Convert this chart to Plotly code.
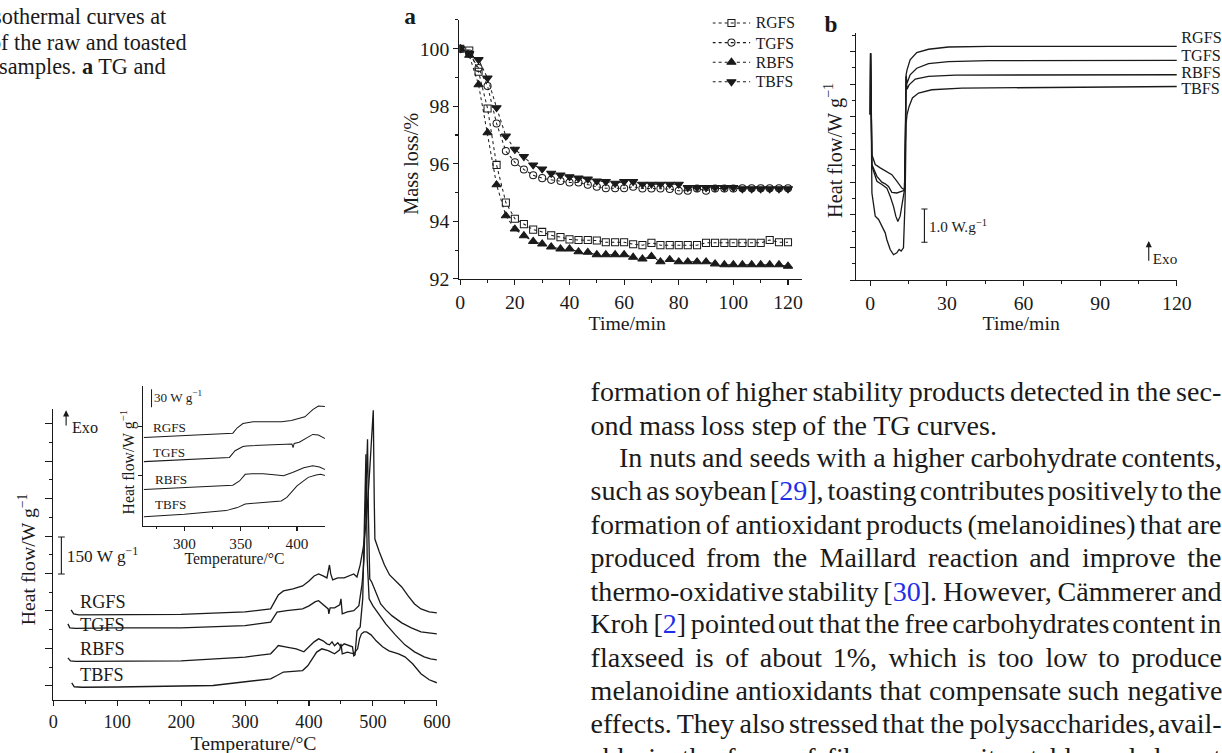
import plotly.graph_objects as go

W, H = 1222, 753
SERIF = "Liberation Serif, Times New Roman, serif"
INK = "#1a1a1a"
BLUE = "#1f2fe8"

def px2x(px):
    return px / W

def py2y(py):
    return 1 - py / H

# ---------------- Panel a : TG isothermal (mass loss %) ----------------
tg_time = [0, 3.3, 6.7, 10, 13.3, 16.7, 20, 23.3, 26.7, 30, 33.3, 36.7, 40, 43.3, 46.7,
           50, 53.3, 56.7, 60, 63.3, 66.7, 70, 73.3, 76.7, 80, 83.3, 86.7, 90, 93.3,
           96.7, 100, 103.3, 106.7, 110, 113.3, 116.7, 120]
tg_rgfs = [100, 99.94, 99.2, 97.92, 95.96, 94.65, 94.09, 93.9, 93.71, 93.63, 93.51, 93.45,
           93.37, 93.35, 93.35, 93.33, 93.27, 93.27, 93.27, 93.2, 93.17, 93.25, 93.17, 93.17,
           93.17, 93.17, 93.17, 93.25, 93.25, 93.25, 93.25, 93.25, 93.25, 93.25, 93.35, 93.27, 93.27]
tg_tgfs = [100, 99.83, 99.33, 98.7, 97.4, 96.44, 96.05, 95.8, 95.6, 95.5, 95.44, 95.4,
           95.35, 95.35, 95.27, 95.2, 95.15, 95.15, 95.15, 95.2, 95.14, 95.14, 95.14, 95.12,
           95.06, 95.06, 95.14, 95.06, 95.14, 95.14, 95.14, 95.15, 95.15, 95.15, 95.15, 95.15, 95.15]
tg_rbfs = [100, 99.77, 98.75, 97.08, 95.27, 94.19, 93.73, 93.5, 93.3, 93.21, 93.11, 93.04,
           93.04, 92.94, 92.92, 92.84, 92.84, 92.84, 92.84, 92.75, 92.69, 92.78, 92.59, 92.67,
           92.59, 92.59, 92.59, 92.59, 92.52, 92.49, 92.49, 92.49, 92.49, 92.49, 92.49, 92.49, 92.44]
tg_tbfs = [100, 99.83, 99.62, 98.98, 97.95, 96.96, 96.5, 96.25, 95.96, 95.82, 95.67, 95.61,
           95.55, 95.5, 95.47, 95.4, 95.38, 95.32, 95.38, 95.38, 95.29, 95.29, 95.29, 95.29,
           95.29, 95.17, 95.17, 95.17, 95.17, 95.17, 95.17, 95.13, 95.13, 95.13, 95.13, 95.13, 95.13]

# ---------------- Panel b : DSC isothermal (heat flow W/g) ----------------
hf_rgfs_t = [0, 0.13, 0.65, 1.95, 3.9, 6.5, 8.45, 10.4, 12.35, 13.4, 13.8, 14.04, 14.4, 15.6,
             18.2, 22.8, 30.6, 46.2, 80, 120]
hf_rgfs = [5.07, 6.95, 3.84, 3.54, 3.44, 3.33, 3.23, 3.03, 2.82, 2.77, 4.5, 6.29, 6.44, 6.75,
           6.97, 7.07, 7.14, 7.16, 7.16, 7.16]
hf_tgfs_t = [0, 0.13, 0.65, 2.6, 4.55, 5.85, 7.15, 8.45, 10.4, 12.35, 13.4, 13.8, 14.04, 14.4,
             15.6, 18.2, 22.8, 30.6, 46.2, 120]
hf_tgfs = [5.07, 6.95, 3.54, 3.18, 3.0, 2.95, 2.87, 2.69, 2.67, 2.72, 2.75, 4.5, 6.26, 6.03,
           6.29, 6.49, 6.63, 6.69, 6.72, 6.73]
hf_rbfs_t = [0, 0.13, 0.65, 2.6, 4.55, 6.5, 7.8, 9.1, 10.0, 10.8, 11.7, 12.6, 13.4, 13.8, 14.04,
             14.4, 15.2, 17.6, 22.8, 33.2, 120]
hf_rbfs = [5.07, 6.95, 3.49, 3.03, 2.93, 2.82, 2.57, 2.26, 1.96, 1.80, 1.96, 2.47, 2.77, 4.5,
           6.22, 5.85, 5.98, 6.16, 6.24, 6.28, 6.29]
hf_tbfs_t = [0, 0.13, 0.65, 1.95, 3.25, 4.55, 5.85, 6.5, 7.8, 9.1, 10.4, 11.3, 12.1, 13.0, 13.65,
             14.04, 14.4, 15.2, 16.5, 18.9, 24.1, 35.8, 120]
hf_tbfs = [5.07, 6.95, 2.67, 1.96, 1.86, 1.65, 1.45, 1.24, 0.94, 0.78, 0.84, 0.94, 0.89, 0.99,
           2.47, 4.81, 5.07, 5.32, 5.58, 5.73, 5.83, 5.88, 5.93]

# ---------------- Bottom : DSC dynamic (heat flow W/g, stacked) ----------------
dsc_rgfs_T = [28, 32, 40, 100, 200, 300, 340, 346, 352, 360, 375, 390, 400, 408, 415, 422, 428,
              432, 434, 437, 445, 455, 465, 470, 475, 480, 485, 490, 495, 499, 500.5, 502, 503,
              510, 518, 526, 535, 545, 555, 565, 575, 588, 600]
dsc_rgfs = [360, 344, 340, 340, 342, 352, 364, 392, 420, 436, 444, 456, 476, 496, 504, 496, 488,
            540, 504, 480, 488, 488, 500, 504, 492, 540, 612, 724, 924, 1124, 1160, 804, 644,
            592, 540, 500, 476, 452, 416, 384, 364, 352, 348]
dsc_tgfs_T = [23, 26, 35, 100, 200, 300, 340, 345, 350, 365, 390, 400, 410, 415, 425, 430, 431,
              433, 440, 448, 450, 452, 460, 470, 478, 483, 486, 488, 490, 491.5, 493, 495, 498,
              505, 512, 520, 530, 545, 560, 575, 600]
dsc_tgfs = [304, 288, 286, 288, 288, 297, 311, 332, 351, 357, 364, 376, 393, 397, 377, 364, 344,
            368, 368, 380, 404, 344, 352, 357, 377, 464, 564, 724, 924, 1044, 724, 484, 472,
            424, 384, 360, 336, 308, 288, 272, 264]
dsc_rbfs_T = [23, 27, 35, 100, 200, 300, 340, 346, 352, 365, 380, 392, 400, 408, 415, 422, 428,
              432, 436, 440, 445, 450, 455, 462, 468, 470, 472, 475, 480, 484, 487, 489, 491,
              494, 500, 510, 520, 535, 550, 565, 580, 590, 600]
dsc_rbfs = [168, 156, 154, 155, 156, 171, 184, 200, 217, 211, 204, 192, 212, 232, 244, 236, 224,
            220, 232, 216, 228, 212, 224, 216, 212, 176, 180, 276, 292, 404, 724, 984, 564,
            404, 376, 340, 304, 260, 220, 192, 172, 164, 160]
dsc_tbfs_T = [29, 33, 45, 100, 250, 300, 340, 350, 360, 375, 390, 398, 405, 412, 420, 430, 440,
              448, 450, 452, 460, 470, 476, 479, 482, 486, 490, 497, 505, 515, 525, 540, 550,
              562, 575, 588, 600]
dsc_tbfs = [68, 52, 50, 51, 57, 71, 84, 97, 111, 114, 117, 136, 164, 191, 204, 197, 184, 200,
            224, 184, 191, 184, 204, 244, 264, 272, 272, 260, 236, 212, 196, 184, 172, 144,
            104, 80, 68]

# ---------------- Inset : zoom 263-425 °C ----------------
ins_rgfs_T = [264, 300, 343, 347, 352, 361, 375, 386, 395, 400, 407, 414, 419, 425]
ins_rgfs = [146, 149, 153, 162, 169, 172, 172, 172, 174, 176, 180, 192, 198, 197]
ins_tgfs_T = [264, 300, 340, 345, 352, 355, 365, 380, 395.5, 396.5, 397.5, 402, 410, 414, 419, 425]
ins_tgfs = [106, 109, 113, 124, 131, 132, 133, 134, 135, 129, 136, 138, 147, 151, 150, 144]
ins_rbfs_T = [264, 300, 343, 349, 354, 360, 370, 382, 388, 396, 406, 414, 420, 425]
ins_rbfs = [60, 63, 67, 74, 85, 86, 86, 84, 82.5, 88, 96, 99, 97, 93]
ins_tbfs_T = [264, 300, 337, 347, 354, 368, 386, 391, 396, 400, 405, 410, 417, 421, 425]
ins_tbfs = [15, 19, 25, 30, 36, 38.5, 41, 47, 57, 66, 73, 80, 84, 85, 83]

samples = ["RGFS", "TGFS", "RBFS", "TBFS"]
tg_symbols = ["square-open", "circle-open", "triangle-up", "triangle-down"]

# ---------------- text of the page ----------------
caption_lines = ["isothermal curves at", "of the raw and toasted", "samples. <b>a</b> TG and"]
body_lines = [
    "formation of higher stability products detected in the sec-",
    "ond mass loss step of the TG curves.",
    "In nuts and seeds with a higher carbohydrate contents,",
    "such as soybean [29], toasting contributes positively to the",
    "formation of antioxidant products (melanoidines) that are",
    "produced from the Maillard reaction and improve the",
    "thermo-oxidative stability [30]. However, Cämmerer and",
    "Kroh [2] pointed out that the free carbohydrates content in",
    "flaxseed is of about 1%, which is too low to produce",
    "melanoidine antioxidants that compensate such negative",
    "effects. They also stressed that the polysaccharides, avail-",
    "able in the form of fibers, are quite stable and do not",
]
body_justified = [True, False, True, True, True, True, True, True, True, True, True, True]
body_indent = [0, 0, 28, 0, 0, 0, 0, 0, 0, 0, 0, 0]
blue_refs = ["29", "30", "2"]

TIMES_W = dict(zip("abcdefghijklmnopqrstuvwxyz",
                   [444, 500, 444, 500, 444, 333, 500, 500, 278, 278, 500, 278, 778, 500, 500,
                    500, 500, 333, 389, 278, 500, 500, 722, 500, 500, 444]))
TIMES_W.update(dict(zip("ABCDEFGHIJKLMNOPQRSTUVWXYZ",
                        [722, 667, 667, 722, 611, 556, 722, 722, 333, 389, 722, 611, 889, 722,
                         722, 556, 722, 667, 556, 611, 722, 722, 944, 722, 722, 611])))
TIMES_W.update({c: 500 for c in "0123456789"})
TIMES_W.update({" ": 250, ",": 250, ".": 250, "-": 333, "(": 333, ")": 333, "[": 333,
                "]": 333, "%": 833, "ä": 444})


def tw(s, size):
    return sum(TIMES_W.get(c, 500) for c in s) / 1000.0 * size


fig = go.Figure()

# panel a traces
for name, vals, sym in zip(samples, [tg_rgfs, tg_tgfs, tg_rbfs, tg_tbfs], tg_symbols):
    fig.add_trace(go.Scatter(
        x=tg_time, y=vals, name=name, mode="lines+markers", xaxis="x", yaxis="y",
        line=dict(color=INK, width=1, dash="dot"),
        marker=dict(symbol=sym, size=7 if "triangle" not in sym else 8,
                    color=INK, line=dict(color=INK, width=1))))

# panel a legend glyphs (own small axes)
for k, (name, sym) in enumerate(zip(samples, tg_symbols)):
    fig.add_trace(go.Scatter(x=[0, 1], y=[k + 1, k + 1], mode="lines", xaxis="x5", yaxis="y5",
                             line=dict(color=INK, width=1, dash="dot"), hoverinfo="skip"))
    fig.add_trace(go.Scatter(x=[0.5], y=[k + 1], mode="markers", xaxis="x5", yaxis="y5",
                             marker=dict(symbol=sym, size=7 if "triangle" not in sym else 8,
                                         color=INK, line=dict(color=INK, width=1)),
                             hoverinfo="skip"))

# panel b traces
for name, tt, vv in zip(samples, [hf_rgfs_t, hf_tgfs_t, hf_rbfs_t, hf_tbfs_t],
                        [hf_rgfs, hf_tgfs, hf_rbfs, hf_tbfs]):
    fig.add_trace(go.Scatter(x=tt, y=vv, name=name, mode="lines", xaxis="x2", yaxis="y2",
                             line=dict(color=INK, width=1.3)))

# bottom traces
for name, tt, vv in zip(samples, [dsc_rgfs_T, dsc_tgfs_T, dsc_rbfs_T, dsc_tbfs_T],
                        [dsc_rgfs, dsc_tgfs, dsc_rbfs, dsc_tbfs]):
    fig.add_trace(go.Scatter(x=tt, y=vv, name=name, mode="lines", xaxis="x3", yaxis="y3",
                             line=dict(color=INK, width=1.3)))

# inset traces
for name, tt, vv in zip(samples, [ins_rgfs_T, ins_tgfs_T, ins_rbfs_T, ins_tbfs_T],
                        [ins_rgfs, ins_tgfs, ins_rbfs, ins_tbfs]):
    fig.add_trace(go.Scatter(x=tt, y=vv, name=name, mode="lines", xaxis="x4", yaxis="y4",
                             line=dict(color=INK, width=1.0)))


def axis(domain, rng, anchor, size=19.5, **kw):
    d = dict(domain=domain, range=rng, anchor=anchor, showline=True, linecolor=INK,
             linewidth=1.2, ticks="outside", ticklen=5, tickwidth=1.1, tickcolor=INK,
             showgrid=False, zeroline=False, mirror=False,
             tickfont=dict(family=SERIF, size=size, color=INK))
    d.update(kw)
    return d


def minor(dt, tick0=None, ln=3):
    m = dict(ticks="outside", ticklen=ln, tickwidth=1, tickcolor=INK, dtick=dt, showgrid=False)
    if tick0 is not None:
        m["tick0"] = tick0
    return m


layout = dict(
    width=W, height=H, autosize=False, margin=dict(l=0, r=0, t=0, b=0),
    paper_bgcolor="white", plot_bgcolor="rgba(0,0,0,0)",
    font=dict(family=SERIF, color=INK), showlegend=False,
    xaxis=axis([px2x(456), px2x(800)], [-0.3, 125.2], "y", tick0=0, dtick=20, minor=minor(10)),
    yaxis=axis([py2y(279.3), py2y(20)], [92, 101], "x", tick0=92, dtick=2, minor=minor(1)),
    xaxis2=axis([px2x(854.3), px2x(1176)], [-5.46, 120], "y2", tick0=0, dtick=30,
                minor=minor(15)),
    yaxis2=axis([py2y(280.7), py2y(33)], [0, 7.57], "x2", tick0=0, dtick=1,
                showticklabels=False, minor=minor(0.5)),
    xaxis3=axis([px2x(48.3), px2x(433.4)], [0, 600], "y3", size=18, tick0=0, dtick=100,
                minor=minor(50, ln=3.5)),
    yaxis3=axis([py2y(701), py2y(410)], [0, 1164], "x3", tick0=56, dtick=150, ticklen=6.5,
                showticklabels=False, minor=minor(75, tick0=56, ln=3.5)),
    xaxis4=axis([px2x(138.4), px2x(321)], [263.2, 424.8], "y4", size=15, ticklen=4,
                tickvals=[300, 350, 400], minor=dict(ticks="outside", ticklen=2.5, tickwidth=1,
                                                     tickcolor=INK, tickvals=[275, 325, 375, 425])),
    yaxis4=axis([py2y(526.7), py2y(386.7)], [0, 231], "x4", ticklen=4, tickvals=[82.5, 163.3],
                showticklabels=False),
    xaxis5=dict(domain=[px2x(710), px2x(748)], range=[0, 1], anchor="y5", visible=False),
    yaxis5=dict(domain=[py2y(91.7), py2y(13.3)], range=[4.5, 0.5], anchor="x5", visible=False),
)
fig.update_layout(**layout)

ann = []
shapes = []


def text(px, py, s, size, xanchor="center", yanchor="middle", angle=0, **kw):
    ann.append(dict(x=px2x(px), y=py2y(py), xref="paper", yref="paper", text=s,
                    showarrow=False, xanchor=xanchor, yanchor=yanchor, textangle=angle,
                    borderpad=0, font=dict(family=SERIF, size=size, color=INK), **kw))


# legend texts for panel a
for name, py in zip(samples, [23.3, 43.3, 62.3, 81.7]):
    text(752, py, name, 15.5, xanchor="left")

# panel labels and axis titles
text(407, 17, "<b>a</b>", 23)
text(829, 25, "<b>b</b>", 23)
text(407, 164, "Mass loss/%", 20, angle=-90)
text(624, 324, "Time/min", 19.5)
text(832, 151, "Heat flow/W g<sup>−1</sup>", 20, angle=-90)
text(1020, 324, "Time/min", 19.5)
text(21.7, 560, "Heat flow/W g<sup>−1</sup>", 19.5, angle=-90)
text(249, 744, "Temperature/°C", 19.5)
text(122.6, 463, "Heat flow/W g<sup>−1</sup>", 15.5, angle=-90)
text(230, 560, "Temperature/°C", 15.5)

# panel b right labels (outside the plot)
for name, py in zip(samples, [37.3, 55, 72.7, 89.3]):
    text(1179, py, name, 16, xanchor="left")

# panel b scale bar and exo arrow
shapes.append(dict(type="line", xref="x2", yref="y2", x0=21.2, x1=21.2, y0=1.16, y1=2.18,
                   line=dict(color=INK, width=1.1)))
for yv in [1.16, 2.18]:
    shapes.append(dict(type="line", xref="x2", yref="y2", x0=20.0, x1=22.4, y0=yv, y1=yv,
                       line=dict(color=INK, width=1.1)))
ann.append(dict(x=22.6, y=1.67, xref="x2", yref="y2", text="1.0 W.g<sup>−1</sup>",
                showarrow=False, xanchor="left", yanchor="middle", borderpad=0,
                font=dict(family=SERIF, size=15, color=INK)))
ann.append(dict(x=109, y=1.2, ax=109, ay=0.33, xref="x2", yref="y2", axref="x2", ayref="y2",
                text=" ", showarrow=True, arrowhead=2, arrowsize=1.1, arrowwidth=1.1,
                arrowcolor=INK))
ann.append(dict(x=110.2, y=0.65, xref="x2", yref="y2", text="Exo", showarrow=False,
                xanchor="left", yanchor="middle", borderpad=0,
                font=dict(family=SERIF, size=15, color=INK)))

# bottom chart: labels, scale bar, exo arrow
for name, yv in zip(samples, [392, 300, 204, 100]):
    ann.append(dict(x=41, y=yv, xref="x3", yref="y3", text=name, showarrow=False,
                    xanchor="left", yanchor="middle", borderpad=0,
                    font=dict(family=SERIF, size=18, color=INK)))
shapes.append(dict(type="line", xref="x3", yref="y3", x0=12.8, x1=12.8, y0=504, y1=652,
                   line=dict(color=INK, width=1.1)))
for yv in [504, 652]:
    shapes.append(dict(type="line", xref="x3", yref="y3", x0=7.5, x1=18.1, y0=yv, y1=yv,
                       line=dict(color=INK, width=1.1)))
ann.append(dict(x=19.5, y=578, xref="x3", yref="y3", text="150 W g<sup>−1</sup>",
                showarrow=False, xanchor="left", yanchor="middle", borderpad=0,
                font=dict(family=SERIF, size=17, color=INK)))
ann.append(dict(x=20.2, y=1160, ax=20.2, ay=1064, xref="x3", yref="y3", axref="x3", ayref="y3",
                text=" ", showarrow=True, arrowhead=2, arrowsize=1.1, arrowwidth=1.1,
                arrowcolor=INK))
ann.append(dict(x=27, y=1094, xref="x3", yref="y3", text="Exo", showarrow=False,
                xanchor="left", yanchor="middle", borderpad=0,
                font=dict(family=SERIF, size=16, color=INK)))

# inset: labels and scale bar
for name, yv, xv in zip(samples, [163, 121, 77, 36], [271, 271, 273, 273]):
    ann.append(dict(x=xv, y=yv, xref="x4", yref="y4", text=name, showarrow=False,
                    xanchor="left", yanchor="middle", borderpad=0,
                    font=dict(family=SERIF, size=13, color=INK)))
shapes.append(dict(type="line", xref="x4", yref="y4", x0=270.8, x1=270.8, y0=195.8, y1=225.5,
                   line=dict(color=INK, width=1)))
ann.append(dict(x=272.5, y=214, xref="x4", yref="y4", text="30 W g<sup>−1</sup>",
                showarrow=False, xanchor="left", yanchor="middle", borderpad=0,
                font=dict(family=SERIF, size=13, color=INK)))

# caption at top-left (clipped by the page edge)
for s, py, right in zip(caption_lines, [16.7, 41.7, 66.7], [163, 183, 163]):
    text(right, py, s, 22, xanchor="right")

# body text, justified word by word
BODY_SIZE = 27.7
BODY_L = 587
BODY_R = 1219
BODY_TOP = 392
BODY_STEP = 33.3


def fmt_word(wd):
    for r in blue_refs:
        token = "[" + r + "]"
        if token in wd:
            return wd.replace(token, "[<span style='color:%s'>%s</span>]" % (BLUE, r))
    return wd


for i, (line, just, ind) in enumerate(zip(body_lines, body_justified, body_indent)):
    py = BODY_TOP + i * BODY_STEP
    words = line.split(" ")
    widths = [tw(w_, BODY_SIZE) for w_ in words]
    left = BODY_L + ind
    if just and len(words) > 1:
        gap = (BODY_R - left - sum(widths)) / (len(words) - 1)
    else:
        gap = tw(" ", BODY_SIZE)
    xpos = left
    for wd, wdt in zip(words, widths):
        text(xpos, py, fmt_word(wd), BODY_SIZE, xanchor="left")
        xpos += wdt + gap

fig.update_layout(annotations=ann, shapes=shapes)

# page fitting: no body margin, clip overflowing text, and compensate the ~1.3 %
# shrink seen between the figure and the photographed window
FIT_PAGE = ("document.documentElement.style.margin='0';document.body.style.margin='0';"
            "document.documentElement.style.overflow='hidden';document.body.style.overflow='hidden';"
            "var gd=document.getElementById('{plot_id}');gd.style.overflow='hidden';"
            "gd.querySelectorAll('svg').forEach(function(s){s.style.overflow='hidden';});"
            "gd.style.transformOrigin='0 0';gd.style.transform='scale(1.013)';")
fig.write_html("out.html", config={"displayModeBar": False}, post_script=FIT_PAGE)
